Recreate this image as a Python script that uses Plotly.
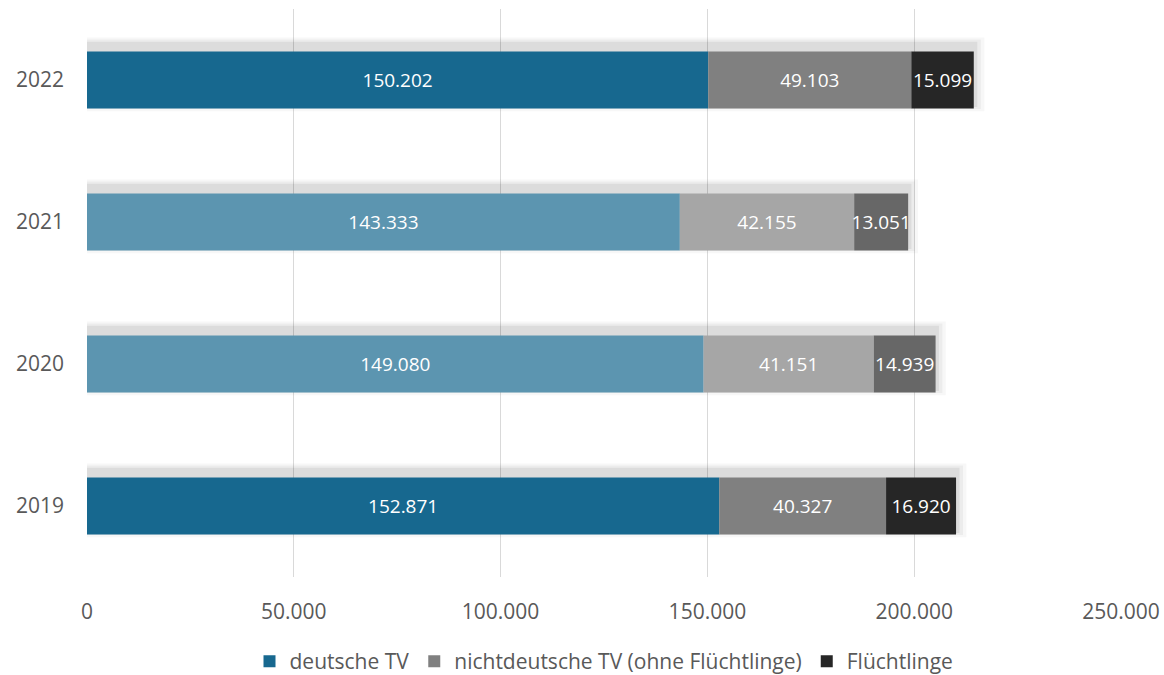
import plotly.graph_objects as go

years = ["2019", "2020", "2021", "2022"]
deutsche = [152871, 149080, 143333, 150202]
nichtdeutsche = [40327, 41151, 42155, 49103]
fluechtlinge = [16920, 14939, 13051, 15099]
row_opacity = [1.0, 0.7, 0.7, 1.0]

series = [
    ("deutsche TV", deutsche, (23, 104, 143)),
    ("nichtdeutsche TV (ohne Flüchtlinge)", nichtdeutsche, (128, 128, 128)),
    ("Flüchtlinge", fluechtlinge, (38, 38, 38)),
]

totals = [a + b + c for a, b, c in zip(deutsche, nichtdeutsche, fluechtlinge)]

fig = go.Figure()

# soft shadow layers behind the bars (offset slightly upward/right)
for w, a, k in [(0.52, 0.03, 1.012), (0.49, 0.045, 1.008), (0.46, 0.065, 1.004)]:
    fig.add_trace(go.Bar(
        y=years, x=[t * k for t in totals], base=[0] * len(years), orientation="h",
        width=w, marker=dict(color=f"rgba(0,0,0,{a})", line=dict(width=0)),
        hoverinfo="skip", showlegend=False, offset=-w / 2 + 0.04,
    ))

bases = [0] * len(years)
for name, vals, (r, g, b) in series:
    colors = [f"rgb({int(r + (255 - r) * (1 - o))},{int(g + (255 - g) * (1 - o))},{int(b + (255 - b) * (1 - o))})"
              for o in row_opacity]
    fig.add_trace(go.Bar(
        y=years, x=vals, base=list(bases), name=name, orientation="h",
        marker=dict(color=colors, line=dict(width=0)),
        texttemplate="%{x:,d}", textposition="inside", insidetextanchor="middle",
        textangle=0,
        textfont=dict(color="white", size=19, family="Open Sans"),
        constraintext="none", width=0.4, offset=-0.2,
    ))
    bases = [bb + v for bb, v in zip(bases, vals)]

fig.update_layout(
    barmode="overlay",
    separators=",.",
    width=1164, height=675,
    margin=dict(l=87, r=43, t=9, b=98, autoexpand=False),
    paper_bgcolor="white", plot_bgcolor="white",
    font=dict(family="Open Sans", color="#595959", size=21),
    legend=dict(orientation="h", x=0.5, xanchor="center", y=-0.149, yanchor="middle",
                font=dict(size=21, color="#595959"), traceorder="normal",
                itemwidth=30),
    uniformtext=dict(mode="show", minsize=19),
)

fig.update_xaxes(range=[0, 250000], dtick=50000, tickformat=",d",
                 showgrid=True, gridcolor="#D9D9D9", gridwidth=1,
                 zeroline=False, showline=False, ticks="", ticklabelstandoff=20,
                 tickfont=dict(size=21))
fig.update_yaxes(categoryorder="array", categoryarray=years, showgrid=False,
                 zeroline=False, showline=False, ticks="", ticklabelstandoff=22,
                 tickfont=dict(size=21))

fig.write_html("out.html")
